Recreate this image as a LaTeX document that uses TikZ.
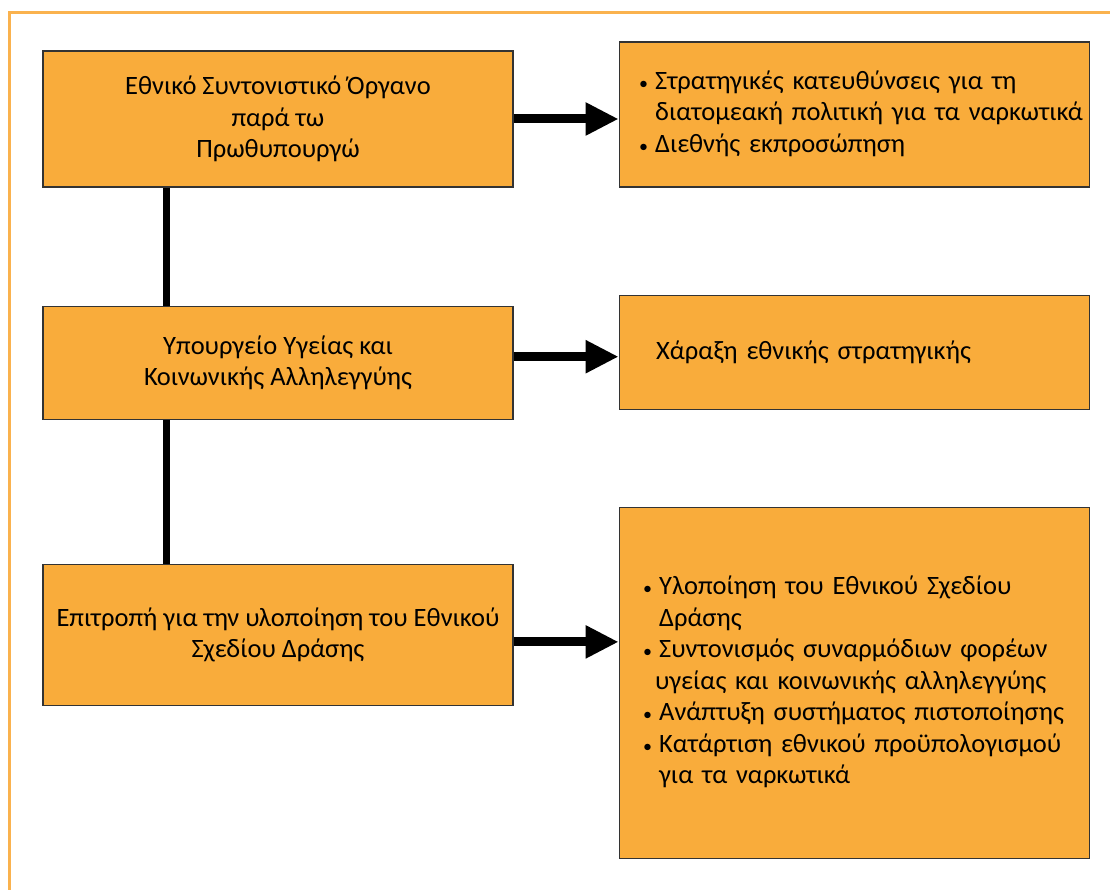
\documentclass[tikz,border=0pt]{standalone}
\usepackage{fontspec}
\setmainfont{Carlito}
\usetikzlibrary{positioning,calc,arrows.meta}

\definecolor{boxorange}{RGB}{249,172,59}
\definecolor{frameorange}{RGB}{250,178,78}

\begin{document}
\begin{tikzpicture}[node distance=105pt]
\tikzstyle{block} = [rectangle, draw=black!80, line width=1.2pt, fill=boxorange, minimum width=470pt, inner sep=0pt, font=\fontsize{26.5}{31.5}\selectfont]
\tikzstyle{leftblock} = [block, align=center]
\tikzstyle{rightblock} = [block, text width=430pt, align=left]
\tikzstyle{line} = [draw, line width=7pt]
\tikzstyle{thickarrow} = [draw, line width=9pt, -{Triangle[length=33pt,width=31pt]}]

\useasboundingbox (0,0) rectangle (1110pt,-890pt);

% Frame
\draw [frameorange, line width=3pt] (9pt,-890pt) -- (9pt,-13pt) -- (1110pt,-13pt);

% Left column
\node [leftblock, minimum height=136pt] (organo) at (278pt,-119pt) {Εθνικό Συντονιστικό Όργανο\\ παρά τω\\ Πρωθυπουργώ};

\node [leftblock, minimum height=113pt, below=118pt of organo] (ypourgeio) {Υπουργείο Υγείας και\\ Κοινωνικής Αλληλεγγύης};

\node [leftblock, minimum height=141pt, below=144pt of ypourgeio] (epitropi) {Επιτροπή για την υλοποίηση του Εθνικού\\ Σχεδίου Δράσης};

% Right column
\node [rightblock, minimum height=145pt, right=of organo, yshift=4.5pt] (kateythynseis) {
    \begin{tabular}{@{}l@{\hspace{7pt}}l@{}}
        {\fontsize{18}{0}\selectfont\textbullet} & Στρατηγικές κατευθύνσεις για τη\\
                    & διατομεακή πολιτική για τα ναρκωτικά\\
        {\fontsize{18}{0}\selectfont\textbullet} & Διεθνής εκπροσώπηση
    \end{tabular}
};

\node [rightblock, text width=396pt, minimum height=114pt, right=of ypourgeio, yshift=10.5pt] (charaxi) {Χάραξη εθνικής στρατηγικής};

\node [rightblock, text width=422pt, minimum height=351pt, right=of epitropi, yshift=-48pt] (ylopoiisi) {
    \begin{tabular}{@{}l@{\hspace{7pt}}l@{}}
        {\fontsize{18}{0}\selectfont\textbullet} & Υλοποίηση του Εθνικού Σχεδίου\\
                    & Δράσης\\
        {\fontsize{18}{0}\selectfont\textbullet} & Συντονισμός συναρμόδιων φορέων\\
                    & \hspace*{-4pt}υγείας και κοινωνικής αλληλεγγύης\\
        {\fontsize{18}{0}\selectfont\textbullet} & Ανάπτυξη συστήματος πιστοποίησης\\
        {\fontsize{18}{0}\selectfont\textbullet} & Κατάρτιση εθνικού προϋπολογισμού\\
                    & για τα ναρκωτικά
    \end{tabular}
};

% Connections
\draw [line] ([xshift=124pt]organo.south west) -- ([xshift=124pt]ypourgeio.north west);
\draw [line] ([xshift=124pt]ypourgeio.south west) -- ([xshift=124pt]epitropi.north west);
\draw [thickarrow] (organo.east) -- (organo.east -| kateythynseis.west);
\draw [thickarrow] ([yshift=6pt]ypourgeio.east) -- ([yshift=6pt]ypourgeio.east -| charaxi.west);
\draw [thickarrow] ([yshift=-7pt]epitropi.east) -- ([yshift=-7pt]epitropi.east -| ylopoiisi.west);

\end{tikzpicture}
\end{document}
